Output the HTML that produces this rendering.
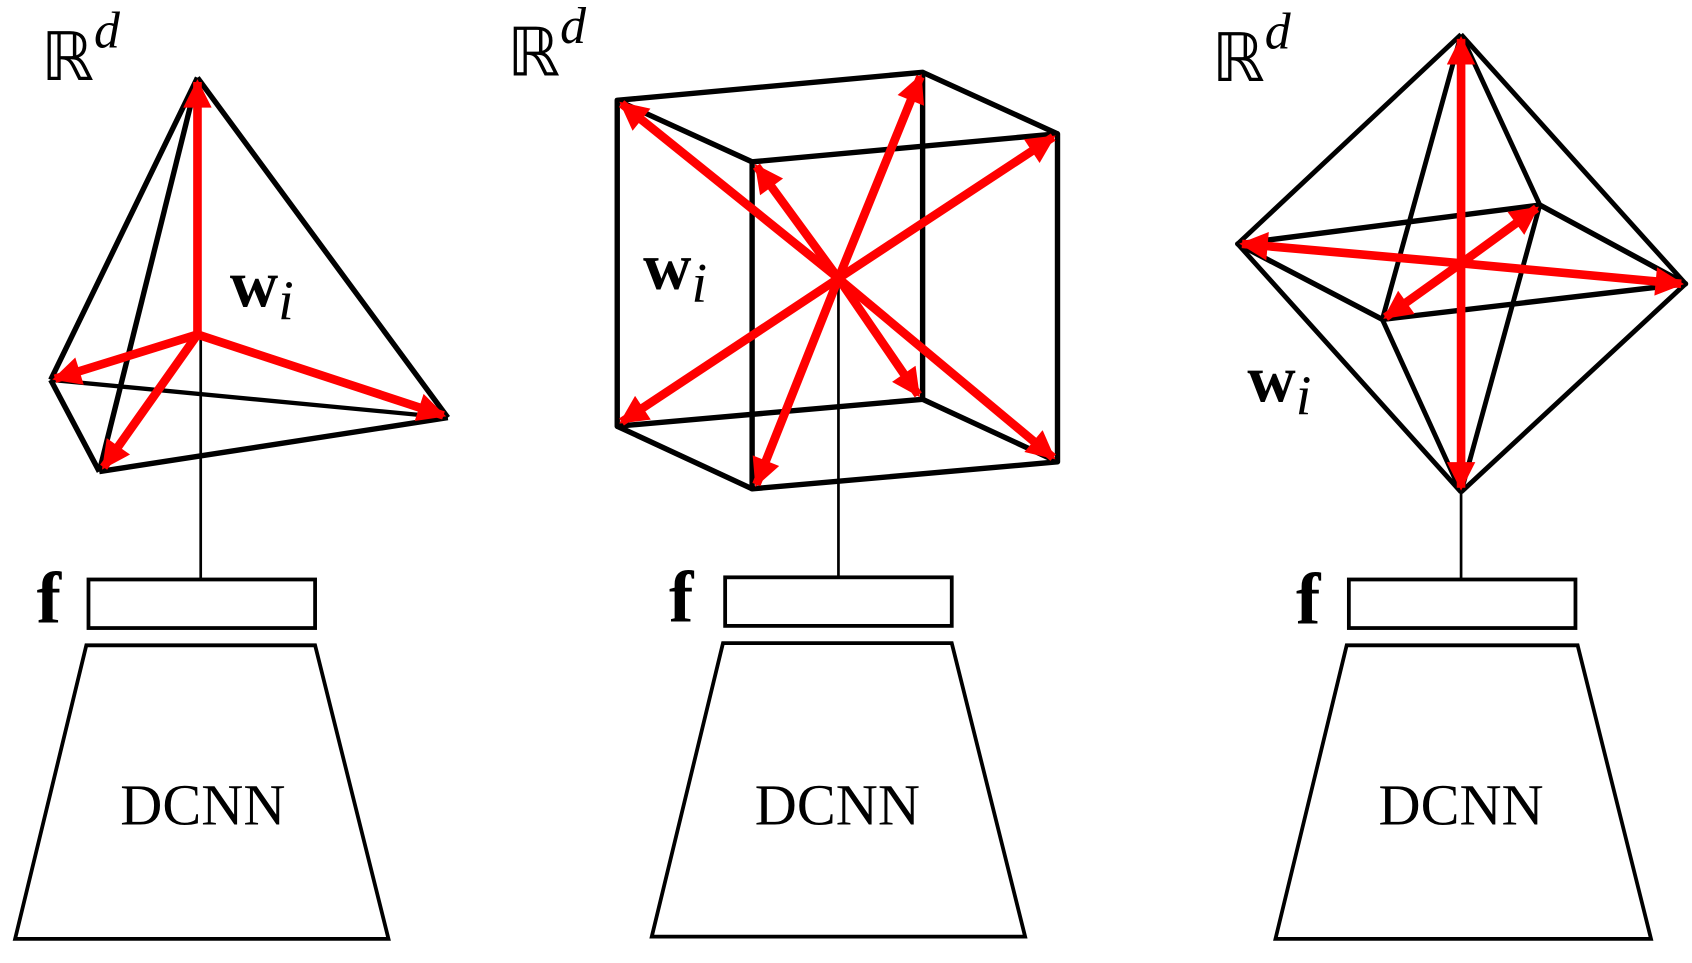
<!DOCTYPE html>
<html><head><meta charset="utf-8"><style>
html,body{margin:0;padding:0;background:#fff;}
svg{display:block;}
text{font-family:"Liberation Serif",serif;}
</style></head><body>
<svg width="1692" height="963" viewBox="0 0 1568 892.4" preserveAspectRatio="none" xmlns="http://www.w3.org/2000/svg">
<defs>
<marker id="ah" viewBox="0 0 10 10" refX="9" refY="5" markerWidth="3.6" markerHeight="3.3" orient="auto" markerUnits="strokeWidth">
<path d="M0,0 L10,5 L0,10 z" fill="#ff0000"/>
</marker>
</defs>

<g>
<line x1="186" y1="310" x2="186" y2="537" stroke="#000" stroke-width="2.5"/>
<g stroke="#000" stroke-width="5" fill="none" stroke-linejoin="round">
<line x1="183" y1="72" x2="47" y2="352"/>
<line x1="183" y1="72" x2="92" y2="437"/>
<line x1="183" y1="72" x2="415" y2="387"/>
<line x1="47" y1="352" x2="92" y2="437"/>
<line x1="92" y1="437" x2="415" y2="387"/>
<line x1="47" y1="352" x2="415" y2="387" stroke-width="4"/>
</g>
<g stroke="#ff0000" stroke-width="8" marker-end="url(#ah)">
<line x1="183" y1="310" x2="183" y2="76"/>
<line x1="183" y1="310" x2="51" y2="351"/>
<line x1="183" y1="310" x2="96" y2="433"/>
<line x1="183" y1="310" x2="411" y2="385"/>
</g>
<text x="213" y="284" font-size="62" font-weight="bold">w<tspan font-style="italic" font-weight="normal" font-size="52" dy="12">i</tspan></text>
<text x="38" y="74" font-size="62">ℝ<tspan font-style="italic" font-size="48" dy="-30">d</tspan></text>
<text x="34" y="577" font-size="68" font-weight="bold">f</text>
<rect x="82" y="537" width="210" height="45" fill="none" stroke="#000" stroke-width="3.5"/>
<polygon points="80,598 292,598 360,870 14,870" fill="none" stroke="#000" stroke-width="3.5"/>
<text x="188" y="764" font-size="54" text-anchor="middle">DCNN</text>
</g>

<g>
<line x1="777" y1="258" x2="777" y2="535" stroke="#000" stroke-width="2.5"/>
<g stroke="#000" stroke-width="5" fill="none" stroke-linejoin="round">
<polygon points="572,93 855,67 855,370 572,395"/>
<polygon points="697,150 980,124 980,428 697,453"/>
<line x1="572" y1="93" x2="697" y2="150"/>
<line x1="855" y1="67" x2="980" y2="124"/>
<line x1="855" y1="370" x2="980" y2="428"/>
<line x1="572" y1="395" x2="697" y2="453"/>
</g>
<g stroke="#ff0000" stroke-width="8" marker-end="url(#ah)">
<line x1="777" y1="258" x2="576" y2="96"/>
<line x1="777" y1="258" x2="853" y2="71"/>
<line x1="777" y1="258" x2="976" y2="127"/>
<line x1="777" y1="258" x2="701" y2="154"/>
<line x1="777" y1="258" x2="576" y2="391"/>
<line x1="777" y1="258" x2="851" y2="366"/>
<line x1="777" y1="258" x2="976" y2="424"/>
<line x1="777" y1="258" x2="701" y2="449"/>
</g>
<text x="596" y="268" font-size="62" font-weight="bold">w<tspan font-style="italic" font-weight="normal" font-size="52" dy="12">i</tspan></text>
<text x="470" y="70" font-size="62">ℝ<tspan font-style="italic" font-size="48" dy="-30">d</tspan></text>
<text x="620" y="576" font-size="68" font-weight="bold">f</text>
<rect x="672" y="535" width="210" height="45" fill="none" stroke="#000" stroke-width="3.5"/>
<polygon points="670,596 882,596 950,868 604,868" fill="none" stroke="#000" stroke-width="3.5"/>
<text x="776" y="764" font-size="54" text-anchor="middle">DCNN</text>
</g>

<g>
<line x1="1354" y1="456" x2="1354" y2="537" stroke="#000" stroke-width="2.5"/>
<g stroke="#000" stroke-width="4.5" fill="none" stroke-linejoin="round">
<line x1="1354" y1="32" x2="1147" y2="226"/>
<line x1="1354" y1="32" x2="1562" y2="263"/>
<line x1="1354" y1="32" x2="1427" y2="190"/>
<line x1="1354" y1="32" x2="1281" y2="296"/>
<line x1="1354" y1="456" x2="1147" y2="226"/>
<line x1="1354" y1="456" x2="1562" y2="263"/>
<line x1="1354" y1="456" x2="1427" y2="190"/>
<line x1="1354" y1="456" x2="1281" y2="296"/>
<polygon points="1147,226 1427,190 1562,263 1281,296" stroke-width="5"/>
</g>
<g stroke="#ff0000" stroke-width="8" marker-end="url(#ah)">
<line x1="1354" y1="244" x2="1354" y2="36"/>
<line x1="1354" y1="244" x2="1354" y2="452"/>
<line x1="1354" y1="244" x2="1151" y2="226"/>
<line x1="1354" y1="244" x2="1558" y2="263"/>
<line x1="1354" y1="244" x2="1424" y2="193"/>
<line x1="1354" y1="244" x2="1284" y2="294"/>
</g>
<text x="1156" y="372" font-size="62" font-weight="bold">w<tspan font-style="italic" font-weight="normal" font-size="52" dy="12">i</tspan></text>
<text x="1123" y="75" font-size="62">ℝ<tspan font-style="italic" font-size="48" dy="-30">d</tspan></text>
<text x="1201" y="578" font-size="68" font-weight="bold">f</text>
<rect x="1250" y="537" width="210" height="45" fill="none" stroke="#000" stroke-width="3.5"/>
<polygon points="1248,598 1462,598 1530,870 1182,870" fill="none" stroke="#000" stroke-width="3.5"/>
<text x="1354" y="764" font-size="54" text-anchor="middle">DCNN</text>
</g>
</svg>
</body></html>
